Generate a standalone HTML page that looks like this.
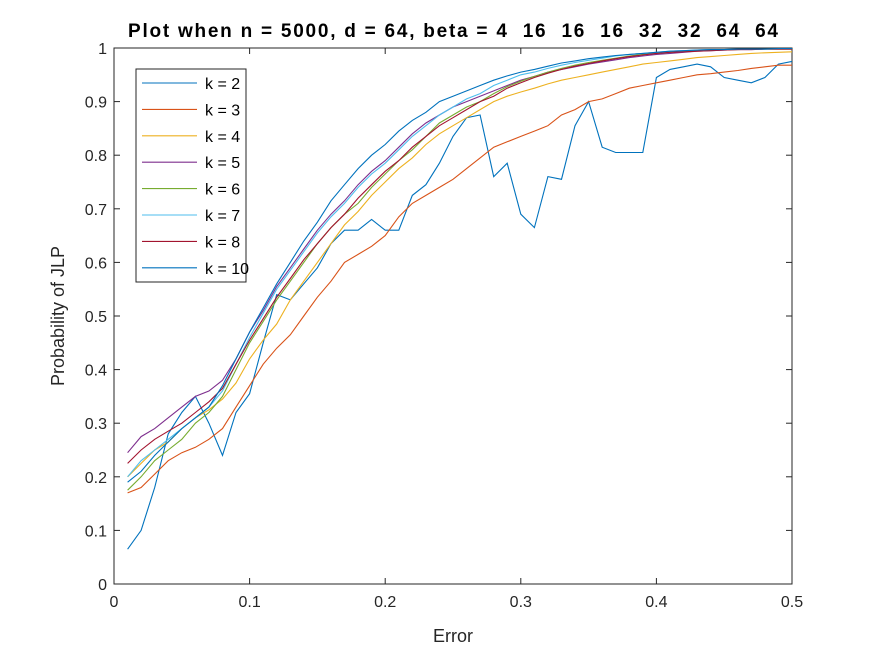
<!DOCTYPE html>
<html><head><meta charset="utf-8"><style>
body{margin:0;background:#fff;}
svg{display:block;font-family:"Liberation Sans",Arial,sans-serif;}
</style></head><body>
<svg id="chart" width="875" height="656">
<rect width="875" height="656" fill="#fff"/>
<text x="128" y="37" textLength="650" lengthAdjust="spacing" font-weight="bold" font-size="19" fill="#000" style="white-space:pre" xml:space="preserve">Plot when n = 5000, d = 64, beta = 4  16  16  16  32  32  64  64</text>
<g id="plot"></g>
<text x="453" y="642" text-anchor="middle" font-size="18" fill="#262626">Error</text>
<text transform="translate(64,316) rotate(-90)" text-anchor="middle" font-size="18" fill="#262626">Probability of JLP</text>
</svg>
<script>
const xVals=[];for(let i=1;i<=50;i++)xVals.push(i/100);
const seriesNames=["k = 2","k = 3","k = 4","k = 5","k = 6","k = 7","k = 8","k = 10"];
const seriesColors=["#0072BD","#D95319","#EDB120","#7E2F8E","#77AC30","#4DBEEE","#A2142F","#0072BD"];
const k2=[.065,.10,.18,.28,.32,.35,.30,.24,.32,.355,.45,.54,.53,.56,.59,.635,.66,.66,.68,.66,.66,.725,.745,.785,.835,.87,.875,.76,.785,.69,.665,.76,.755,.855,.90,.815,.805,.805,.805,.945,.96,.965,.97,.965,.945,.94,.935,.945,.97,.975];
const k3=[.17,.18,.205,.23,.245,.255,.27,.29,.33,.37,.41,.44,.465,.50,.535,.565,.60,.615,.63,.65,.685,.71,.725,.74,.755,.775,.795,.815,.825,.835,.845,.855,.875,.885,.90,.905,.915,.925,.93,.935,.94,.945,.95,.952,.955,.958,.962,.965,.968,.968];
const k4=[.20,.225,.25,.265,.29,.31,.325,.345,.375,.42,.455,.485,.53,.565,.60,.635,.67,.695,.725,.75,.775,.795,.82,.84,.855,.87,.885,.90,.91,.918,.925,.933,.94,.945,.95,.955,.96,.965,.97,.973,.976,.979,.982,.984,.986,.988,.99,.991,.992,.993];
const k5=[.245,.275,.29,.31,.33,.35,.36,.38,.42,.47,.51,.555,.59,.625,.66,.69,.715,.745,.77,.79,.815,.84,.86,.875,.89,.90,.91,.92,.93,.94,.947,.955,.96,.965,.97,.974,.978,.982,.985,.988,.99,.992,.994,.995,.996,.997,.997,.998,.998,.998];
const k6=[.175,.20,.23,.25,.27,.30,.32,.35,.40,.45,.49,.53,.565,.60,.635,.665,.69,.71,.74,.765,.79,.81,.835,.86,.875,.89,.90,.915,.928,.938,.947,.955,.962,.968,.973,.977,.981,.985,.988,.99,.992,.994,.995,.996,.997,.997,.998,.998,.998,.998];
const k7=[.20,.23,.25,.27,.29,.31,.33,.36,.41,.46,.505,.55,.585,.62,.655,.685,.71,.74,.765,.785,.81,.835,.855,.875,.89,.905,.915,.93,.94,.95,.955,.962,.968,.973,.977,.981,.985,.988,.99,.992,.994,.995,.996,.997,.997,.998,.998,.998,.998,.998];
const k8=[.225,.25,.27,.285,.30,.32,.34,.365,.41,.455,.495,.535,.57,.605,.635,.665,.69,.72,.745,.77,.79,.815,.835,.855,.87,.885,.90,.91,.925,.935,.945,.953,.96,.966,.971,.976,.98,.984,.987,.99,.992,.993,.994,.995,.996,.997,.997,.998,.998,.998];
const k10=[.19,.21,.24,.265,.29,.31,.33,.37,.42,.47,.515,.56,.60,.64,.675,.715,.745,.775,.80,.82,.845,.865,.88,.90,.91,.92,.93,.94,.948,.955,.96,.966,.972,.976,.98,.983,.986,.988,.99,.992,.994,.995,.996,.997,.997,.998,.998,.998,.999,.999];
const seriesData=[k2,k3,k4,k5,k6,k7,k8,k10];
const xTicks=[0,0.1,0.2,0.3,0.4,0.5];
const xTickLabels=["0","0.1","0.2","0.3","0.4","0.5"];
const yTicks=[0,0.1,0.2,0.3,0.4,0.5,0.6,0.7,0.8,0.9,1];
const yTickLabels=["0","0.1","0.2","0.3","0.4","0.5","0.6","0.7","0.8","0.9","1"];

const L=114,R=792,T=48,B=584;
const sx=v=>L+(v-0)/(0.5-0)*(R-L);
const sy=v=>B-(v-0)/(1-0)*(B-T);
const NS="http://www.w3.org/2000/svg";
const g=document.getElementById('plot');
function mk(tag,attrs,parent){const e=document.createElementNS(NS,tag);for(const k in attrs)e.setAttribute(k,attrs[k]);(parent||g).appendChild(e);return e;}

const box=mk('rect',{x:L,y:T,width:R-L,height:B-T,fill:'none',stroke:'#262626','stroke-width':1});



xTicks.forEach((t,i)=>{
  const x=sx(t);
  const a=mk('line',{x1:x,x2:x,y1:B,y2:B-6,stroke:'#262626'});
  
  
  const b=mk('line',{x1:x,x2:x,y1:T,y2:T+6,stroke:'#262626'});
  
  
  const tx=mk('text',{x:x,y:B+23,'text-anchor':'middle','font-size':16,fill:'#262626'});
  tx.textContent=xTickLabels[i];
  
  
});
yTicks.forEach((t,i)=>{
  const y=sy(t);
  const a=mk('line',{x1:L,x2:L+6,y1:y,y2:y,stroke:'#262626'});
  
  
  const b=mk('line',{x1:R,x2:R-6,y1:y,y2:y,stroke:'#262626'});
  
  
  const tx=mk('text',{x:L-7,y:y+6,'text-anchor':'end','font-size':16,fill:'#262626'});
  tx.textContent=yTickLabels[i];
  
  
});

seriesData.forEach((d,si)=>{
  const pts=d.map((v,i)=>sx(xVals[i]).toFixed(1)+','+sy(v).toFixed(1)).join(' ');
  const p=mk('polyline',{points:pts,fill:'none',stroke:seriesColors[si],'stroke-width':1.1});
  
  
});

const lg=mk('g',{});


const lb=mk('rect',{x:136,y:69,width:110,height:213,fill:'#fff',stroke:'#262626'},lg);


seriesNames.forEach((n,i)=>{
  const y=83+i*26.4;
  const ln=mk('line',{x1:142,x2:197,y1:y,y2:y,stroke:seriesColors[i],'stroke-width':1.1},lg);
  
  
  const t=mk('text',{x:205,y:y+6,'font-size':16,fill:'#000'},lg);
  t.textContent=n;
  
  
});
</script>
</body></html>
